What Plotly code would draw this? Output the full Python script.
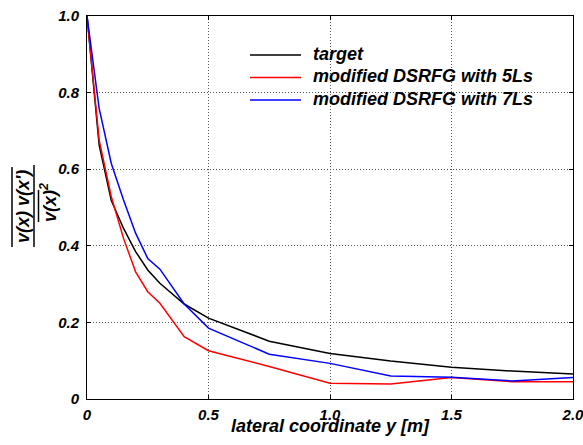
import plotly.graph_objects as go

y_coord = [0, 0.05, 0.1, 0.15, 0.2, 0.25, 0.3, 0.4, 0.5, 0.75, 1.0, 1.25, 1.5, 1.75, 2.0]
target = [1.0, 0.663, 0.518, 0.446, 0.385, 0.337, 0.302, 0.248, 0.211, 0.151, 0.119, 0.099, 0.083, 0.073, 0.065]
dsrfg_5ls = [1.0, 0.676, 0.528, 0.42, 0.332, 0.28, 0.25, 0.163, 0.126, 0.085, 0.041, 0.039, 0.056, 0.045, 0.045]
dsrfg_7ls = [1.0, 0.759, 0.615, 0.52, 0.433, 0.367, 0.339, 0.248, 0.185, 0.117, 0.093, 0.060, 0.057, 0.047, 0.056]

series_names = ["target", "modified DSRFG with 5Ls", "modified DSRFG with 7Ls"]
series_colors = ["#000000", "#ff0000", "#0000ff"]

x_ticks = [0, 0.5, 1.0, 1.5, 2.0]
x_labels = ["0", "0.5", "1.0", "1.5", "2.0"]
y_ticks = [0, 0.2, 0.4, 0.6, 0.8, 1.0]
y_labels = ["0", "0.2", "0.4", "0.6", "0.8", "1.0"]

FONT = "Liberation Sans, Arial, sans-serif"

def bfont(size):
    return dict(family=FONT, size=size, color="black", weight="bold", style="italic")

fig = go.Figure()
for name, vals, col in zip(series_names, [target, dsrfg_5ls, dsrfg_7ls], series_colors):
    fig.add_trace(go.Scatter(x=y_coord, y=vals, mode="lines", name=name,
                             line=dict(color=col, width=1.5), showlegend=False))

axis_common = dict(
    showline=True, linecolor="black", linewidth=1, mirror="ticks",
    ticks="inside", ticklen=4, tickcolor="black",
    showgrid=True, gridcolor="#555555", gridwidth=1, griddash="1px,2px",
    zeroline=False, ticklabeloverflow="allow", automargin=False,
    tickfont=bfont(15),
)

fig.update_xaxes(range=[0, 2.0], tickvals=x_ticks, ticktext=x_labels,
                 ticklabelstandoff=2, **axis_common)
fig.update_yaxes(range=[0, 1.0], tickvals=y_ticks, ticktext=y_labels,
                 ticklabelstandoff=4, **axis_common)

# plot-area pixel helpers (for the title decoration and legend placement)
L, R, T, B = 87, 573, 16, 399
def px(xp):
    return (xp - L) / (R - L)
def py(yp):
    return (B - yp) / (B - T)

# x-axis title
fig.add_annotation(text="lateral coordinate y [m]", xref="paper", yref="paper",
                   x=0.5, y=py(426), xanchor="center", yanchor="middle",
                   showarrow=False, font=bfont(18))

# y-axis title: fraction with overlines
fig.add_annotation(text="v(x) v(x')", textangle=-90, xref="paper", yref="paper",
                   x=px(23), y=py(207), xanchor="center", yanchor="middle",
                   showarrow=False, font=bfont(18))
fig.add_annotation(text="v(x)<sup>2</sup>", textangle=-90, xref="paper", yref="paper",
                   x=px(48), y=py(203), xanchor="center", yanchor="middle",
                   showarrow=False, font=bfont(18))
line_style = dict(color="black", width=1.5)
fig.add_shape(type="line", xref="paper", yref="paper", x0=px(12), x1=px(12), y0=py(167), y1=py(247), line=line_style)
fig.add_shape(type="line", xref="paper", yref="paper", x0=px(34), x1=px(34), y0=py(165), y1=py(247), line=line_style)
fig.add_shape(type="line", xref="paper", yref="paper", x0=px(38.5), x1=px(38.5), y0=py(190), y1=py(222), line=line_style)

# legend (line samples + labels)
leg_rows = [55, 77.5, 100]
for name, col, ry in zip(series_names, series_colors, leg_rows):
    fig.add_shape(type="line", xref="paper", yref="paper", x0=px(250), x1=px(301),
                  y0=py(ry), y1=py(ry), line=dict(color=col, width=1.5))
    fig.add_annotation(text=name, xref="paper", yref="paper", x=px(311), y=py(ry - 1),
                       xanchor="left", yanchor="middle", showarrow=False, font=bfont(18))

fig.update_layout(
    width=583, height=445,
    margin=dict(l=L, r=583 - R, t=T, b=445 - B, autoexpand=False),
    plot_bgcolor="white", paper_bgcolor="white",
    showlegend=False,
)

fig.write_html("out.html")
